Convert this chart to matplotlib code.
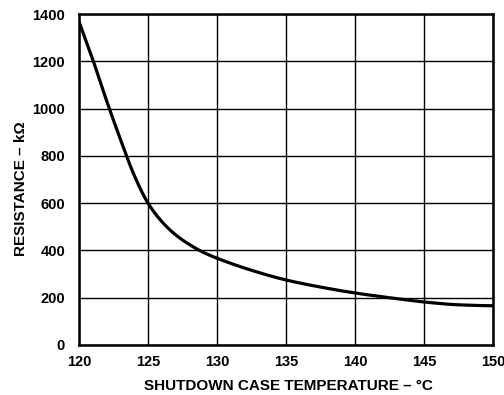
import matplotlib
matplotlib.use("Agg")
import matplotlib.pyplot as plt
import numpy as np

temp_c = [120, 121, 122, 123, 124, 125, 126, 127, 128, 129, 130, 132.5, 135, 137.5, 140, 142.5, 145, 147.5, 150]
resistance_k = [1368, 1207, 1033, 870, 718, 600, 522, 466, 425, 392, 367, 316, 275, 245, 220, 200, 182, 170, 166]

x_ticks = [120, 125, 130, 135, 140, 145, 150]
y_ticks = [0, 200, 400, 600, 800, 1000, 1200, 1400]

plt.rcParams['font.family'] = ['Liberation Sans', 'DejaVu Sans']
plt.rcParams['font.weight'] = 'bold'

fig = plt.figure(figsize=(5.04, 3.95), dpi=100)
ax = fig.add_axes([79/504, 1-345/395, (493-79)/504, (345-14)/395])

xs = np.array(temp_c, dtype=float)
ys = np.array(resistance_k, dtype=float)

def pchip(x, y, xn):
    h = np.diff(x); d = np.diff(y) / h
    m = np.zeros_like(y)
    for i in range(1, len(y)-1):
        if d[i-1]*d[i] > 0:
            w1 = 2*h[i] + h[i-1]; w2 = h[i] + 2*h[i-1]
            m[i] = (w1 + w2) / (w1/d[i-1] + w2/d[i])
    m[0] = d[0]; m[-1] = d[-1] * 0.3
    out = np.empty_like(xn)
    for k, xv in enumerate(xn):
        i = min(np.searchsorted(x, xv) - 1, len(x)-2); i = max(i, 0)
        t = (xv - x[i]) / h[i]
        h00 = 2*t**3 - 3*t**2 + 1; h10 = t**3 - 2*t**2 + t
        h01 = -2*t**3 + 3*t**2; h11 = t**3 - t**2
        out[k] = h00*y[i] + h10*h[i]*m[i] + h01*y[i+1] + h11*h[i]*m[i+1]
    return out

xn = np.linspace(120, 150, 600)
yn = pchip(xs, ys, xn)
ax.plot(xn, yn, color='black', lw=2.3, solid_capstyle='butt', zorder=3)

ax.set_xlim(120, 150)
ax.set_ylim(0, 1400)
ax.set_xticks(x_ticks)
ax.set_yticks(y_ticks)
ax.grid(True, color='black', lw=1.0)
ax.tick_params(axis='x', length=0, labelsize=10.5, pad=7)
ax.tick_params(axis='y', length=0, labelsize=10.5, pad=10)
for lab in ax.get_xticklabels() + ax.get_yticklabels():
    lab.set_fontweight('bold')
for s in ax.spines.values():
    s.set_linewidth(1.8)

fig.text(288.5/504, 1-385.5/395, 'SHUTDOWN CASE TEMPERATURE – °C',
         fontsize=11, fontweight='bold', ha='center', va='center')
fig.text(21/504, 1-189/395, 'RESISTANCE – kΩ', rotation=90,
         fontsize=11, fontweight='bold', ha='center', va='center')

fig.savefig('out.png', dpi=100)
